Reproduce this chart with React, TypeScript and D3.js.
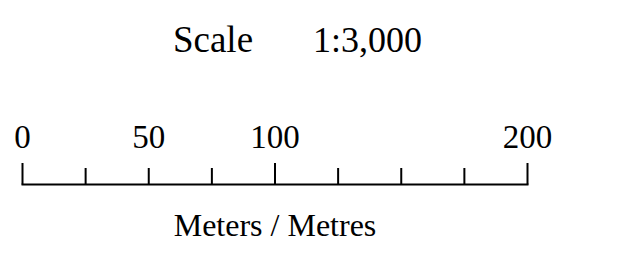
import { useRef, useEffect } from 'react';
import * as d3 from 'd3';

const scaleTitle = 'Scale';
const scaleRatio = '1:3,000';
const unitLabel = 'Meters / Metres';
const domainMax = 200;
const majorTicks = [0, 100, 200];
const minorTicks = [25, 50, 75, 125, 150, 175];
const tickLabels = [0, 50, 100, 200];

export default function App() {
  const containerRef = useRef<HTMLDivElement>(null);

  useEffect(() => {
    const container = containerRef.current;
    if (!container) return;
    d3.select(container).select('svg').remove();

    const width = 621;
    const height = 254;
    const font = "'Liberation Serif', 'Times New Roman', serif";

    const svg = d3
      .select(container)
      .append('svg')
      .attr('width', width)
      .attr('height', height)
      .style('display', 'block')
      .style('background', '#ffffff');

    const x = d3.scaleLinear().domain([0, domainMax]).range([22.5, 527.5]);
    const barY = 184.5;

    // Title
    svg
      .append('text')
      .attr('x', 213)
      .attr('y', 52)
      .attr('text-anchor', 'middle')
      .attr('font-family', font)
      .attr('font-size', 37)
      .attr('fill', '#000')
      .text(scaleTitle);

    svg
      .append('text')
      .attr('x', 313)
      .attr('y', 52)
      .attr('font-family', font)
      .attr('font-size', 36)
      .attr('fill', '#000')
      .text(scaleRatio);

    // Bar
    svg
      .append('line')
      .attr('x1', x(0) - 1)
      .attr('x2', x(domainMax) + 1)
      .attr('y1', barY)
      .attr('y2', barY)
      .attr('stroke', '#000')
      .attr('stroke-width', 2);

    svg
      .selectAll('.major')
      .data(majorTicks)
      .enter()
      .append('line')
      .attr('x1', (d) => x(d))
      .attr('x2', (d) => x(d))
      .attr('y1', 163)
      .attr('y2', barY)
      .attr('stroke', '#000')
      .attr('stroke-width', 2);

    svg
      .selectAll('.minor')
      .data(minorTicks)
      .enter()
      .append('line')
      .attr('x1', (d) => x(d))
      .attr('x2', (d) => x(d))
      .attr('y1', 168)
      .attr('y2', barY)
      .attr('stroke', '#000')
      .attr('stroke-width', 2);

    // Tick labels
    svg
      .selectAll('.label')
      .data(tickLabels)
      .enter()
      .append('text')
      .attr('x', (d) => x(d))
      .attr('y', 148)
      .attr('text-anchor', 'middle')
      .attr('font-family', font)
      .attr('font-size', 33)
      .attr('fill', '#000')
      .text((d) => String(d));

    // Unit label
    svg
      .append('text')
      .attr('x', x(100))
      .attr('y', 236)
      .attr('text-anchor', 'middle')
      .attr('font-family', font)
      .attr('font-size', 32)
      .attr('fill', '#000')
      .text(unitLabel);
  }, []);

  return (
    <div style={{ margin: -8 }}>
      <div ref={containerRef} />
    </div>
  );
}
